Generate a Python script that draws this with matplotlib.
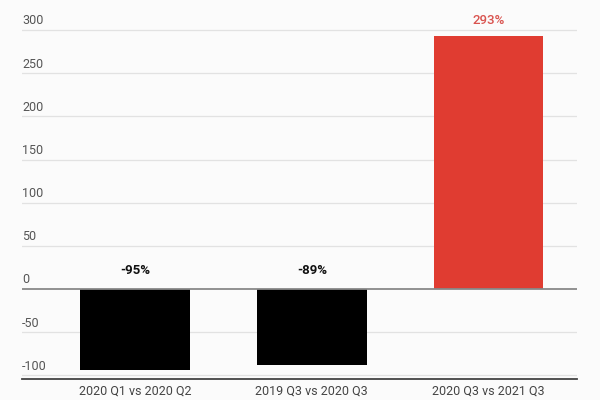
import matplotlib.pyplot as plt
from matplotlib.transforms import blended_transform_factory

plt.rcParams['font.family'] = ['Roboto', 'DejaVu Sans']

categories = ["2020 Q1 vs 2020 Q2", "2019 Q3 vs 2020 Q3", "2020 Q3 vs 2021 Q3"]
values = [-94, -88, 293]
labels = ["-95%", "-89%", "293%"]
bar_colors = ["#000000", "#000000", "#e03c31"]
label_colors = ["#111111", "#111111", "#d9534f"]
yticks = [-100, -50, 0, 50, 100, 150, 200, 250, 300]

fig = plt.figure(figsize=(6, 4), dpi=100, facecolor="#fbfbfb")
ax = fig.add_axes([22/600, 21/400, 555/600, 379/400])
ax.set_facecolor("#fbfbfb")

x = range(len(categories))
ax.bar(x, values, width=0.62, color=bar_colors, zorder=3)

ax.set_xlim(-0.64, 2.5)
ax.set_ylim(-104.2, 334.8)

# gridlines + labels sitting above them
tr = blended_transform_factory(ax.transAxes, ax.transData)
for t in yticks:
    if t == 0:
        ax.axhline(t, color="#888888", lw=1.3, zorder=4)
    else:
        ax.axhline(t, color="#e2e2e2", lw=0.9, zorder=1)
    ax.text(0, t + 3, str(t), transform=tr, ha="left", va="bottom",
            fontsize=9, color="#555555")

# value labels
for i, v in enumerate(values):
    ypos = v + 10 if v > 0 else 14
    ax.text(i, ypos, labels[i], ha="center", va="bottom", fontsize=9.5,
            fontweight="bold" if v < 0 else "medium", color=label_colors[i])

ax.set_yticks([])
ax.set_xticks(list(x))
ax.set_xticklabels(categories, fontsize=9, color="#444444")
ax.tick_params(axis="x", length=0, pad=4)
for s in ["top", "right", "left"]:
    ax.spines[s].set_visible(False)
ax.spines["bottom"].set_color("#444444")
ax.spines["bottom"].set_linewidth(1.3)

fig.savefig("out.png", dpi=100, facecolor=fig.get_facecolor())
